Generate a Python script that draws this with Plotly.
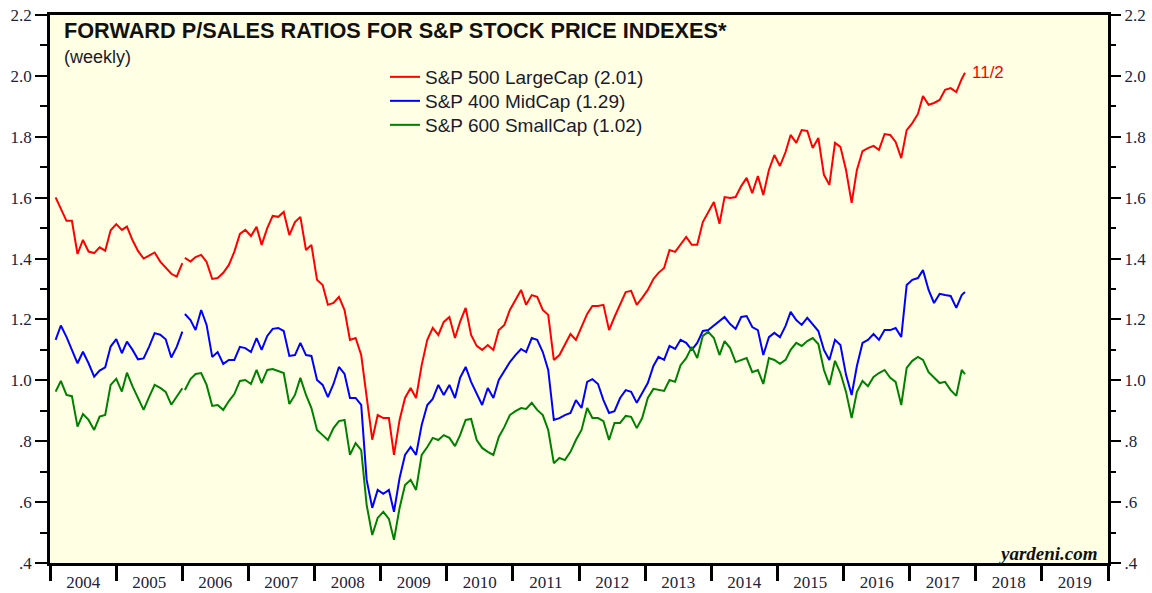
import plotly.graph_objects as go

# ---------------- data ----------------
# early segment: monthly readings, Feb 2004 .. Jan 2006
early_dates = [f"{y}-{m:02d}-01" for y in (2004, 2005) for m in range(1, 13)][1:] + ["2006-01-01"]
large_early = [1.601, 1.565, 1.524, 1.524, 1.415, 1.461, 1.423, 1.418, 1.437, 1.426, 1.493, 1.513,
               1.494, 1.505, 1.460, 1.425, 1.400, 1.410, 1.420, 1.390, 1.370, 1.350, 1.341, 1.385]
mid_early = [1.133, 1.180, 1.143, 1.100, 1.056, 1.094, 1.056, 1.012, 1.032, 1.043, 1.111, 1.135,
             1.089, 1.127, 1.100, 1.069, 1.072, 1.110, 1.155, 1.150, 1.135, 1.075, 1.110, 1.160]
small_early = [0.963, 0.998, 0.952, 0.948, 0.848, 0.889, 0.870, 0.837, 0.881, 0.886, 0.985, 1.005,
               0.963, 1.025, 0.980, 0.940, 0.903, 0.945, 0.985, 0.975, 0.962, 0.920, 0.945, 0.974]

# weekly segment, sampled about monthly: Jan 2006 .. Oct 2017, then 11/2/2017
weekly_dates = [f"{y}-{m:02d}-15" for y in range(2006, 2018) for m in range(1, 13)][:142] + ["2017-11-02"]
large_weekly = [
    1.402, 1.390, 1.405, 1.412, 1.389, 1.333, 1.336, 1.353, 1.379, 1.422, 1.481, 1.494,
    1.474, 1.504, 1.445, 1.500, 1.540, 1.537, 1.553, 1.477, 1.520, 1.537, 1.428, 1.445,
    1.330, 1.313, 1.248, 1.254, 1.274, 1.231, 1.133, 1.139, 1.083, 0.952, 0.805, 0.886,
    0.876, 0.876, 0.755, 0.870, 0.942, 0.975, 0.942, 1.050, 1.133, 1.172, 1.149, 1.192,
    1.208, 1.139, 1.192, 1.238, 1.149, 1.113, 1.100, 1.116, 1.100, 1.165, 1.182, 1.231,
    1.264, 1.297, 1.248, 1.280, 1.274, 1.231, 1.215, 1.067, 1.083, 1.116, 1.152, 1.133,
    1.175, 1.218, 1.244, 1.244, 1.248, 1.165, 1.208, 1.248, 1.290, 1.294, 1.248, 1.271,
    1.297, 1.333, 1.353, 1.369, 1.428, 1.422, 1.445, 1.471, 1.445, 1.445, 1.520, 1.553,
    1.586, 1.514, 1.602, 1.599, 1.602, 1.638, 1.665, 1.615, 1.671, 1.609, 1.691, 1.740,
    1.704, 1.750, 1.806, 1.780, 1.822, 1.819, 1.763, 1.796, 1.675, 1.642, 1.780, 1.767,
    1.691, 1.583, 1.691, 1.753, 1.763, 1.770, 1.757, 1.809, 1.806, 1.783, 1.730, 1.822,
    1.845, 1.875, 1.934, 1.905, 1.911, 1.921, 1.954, 1.960, 1.947, 1.990, 2.010]
mid_weekly = [
    1.218, 1.198, 1.165, 1.231, 1.182, 1.077, 1.093, 1.054, 1.067, 1.067, 1.110, 1.106,
    1.093, 1.139, 1.100, 1.146, 1.169, 1.172, 1.162, 1.080, 1.083, 1.123, 1.083, 1.080,
    1.001, 0.985, 0.945, 0.988, 1.044, 1.021, 0.942, 0.942, 0.919, 0.673, 0.581, 0.640,
    0.627, 0.640, 0.568, 0.679, 0.755, 0.781, 0.755, 0.853, 0.919, 0.939, 0.985, 0.952,
    0.985, 0.942, 1.008, 1.044, 0.995, 0.958, 0.919, 0.975, 0.942, 1.001, 1.031, 1.060,
    1.083, 1.103, 1.093, 1.139, 1.133, 1.093, 1.034, 0.870, 0.876, 0.886, 0.893, 0.935,
    0.909, 0.995, 1.004, 0.988, 0.935, 0.893, 0.899, 0.942, 0.968, 0.962, 0.926, 0.958,
    0.991, 1.047, 1.077, 1.067, 1.113, 1.103, 1.133, 1.123, 1.100, 1.123, 1.162, 1.165,
    1.179, 1.195, 1.208, 1.185, 1.169, 1.208, 1.211, 1.175, 1.165, 1.083, 1.142, 1.156,
    1.142, 1.179, 1.225, 1.198, 1.182, 1.205, 1.182, 1.162, 1.100, 1.067, 1.133, 1.116,
    1.018, 0.952, 1.047, 1.123, 1.133, 1.152, 1.133, 1.165, 1.165, 1.172, 1.142, 1.313,
    1.330, 1.336, 1.362, 1.297, 1.254, 1.284, 1.280, 1.277, 1.238, 1.280, 1.290]
small_weekly = [
    0.968, 1.004, 1.021, 1.024, 0.985, 0.916, 0.919, 0.903, 0.932, 0.955, 0.998, 1.001,
    0.988, 1.034, 0.991, 1.034, 1.037, 1.031, 1.024, 0.922, 0.952, 1.008, 0.952, 0.909,
    0.837, 0.820, 0.804, 0.843, 0.866, 0.870, 0.755, 0.794, 0.771, 0.591, 0.492, 0.548,
    0.568, 0.545, 0.476, 0.581, 0.656, 0.673, 0.640, 0.755, 0.781, 0.811, 0.804, 0.820,
    0.811, 0.784, 0.820, 0.870, 0.873, 0.804, 0.778, 0.765, 0.755, 0.814, 0.847, 0.886,
    0.899, 0.909, 0.906, 0.926, 0.903, 0.886, 0.837, 0.728, 0.745, 0.738, 0.765, 0.804,
    0.837, 0.909, 0.876, 0.876, 0.866, 0.804, 0.860, 0.860, 0.883, 0.880, 0.843, 0.876,
    0.942, 0.972, 0.968, 0.965, 1.001, 0.995, 1.050, 1.073, 1.110, 1.073, 1.146, 1.159,
    1.139, 1.083, 1.129, 1.106, 1.060, 1.067, 1.073, 1.027, 1.034, 0.988, 1.073, 1.067,
    1.054, 1.067, 1.100, 1.123, 1.113, 1.129, 1.139, 1.119, 1.034, 0.985, 1.064, 1.024,
    0.962, 0.876, 0.962, 0.998, 0.981, 1.011, 1.024, 1.034, 1.008, 0.995, 0.919, 1.041,
    1.064, 1.077, 1.067, 1.027, 1.008, 0.991, 0.995, 0.968, 0.949, 1.034, 1.020]

series_names = ["S&P 500 LargeCap (2.01)", "S&P 400 MidCap (1.29)", "S&P 600 SmallCap (1.02)"]
series_colors = ["#ff0000", "#0000ff", "#008000"]
year_labels = [str(y) for y in range(2004, 2020)]
y_tick_vals = [0.4, 0.6, 0.8, 1.0, 1.2, 1.4, 1.6, 1.8, 2.0, 2.2]
y_tick_text = [".4", ".6", ".8", "1.0", "1.2", "1.4", "1.6", "1.8", "2.0", "2.2"]
last_label = "11/2"

# ---------------- figure ----------------
fig = go.Figure()
early = [large_early, mid_early, small_early]
weekly = [large_weekly, mid_weekly, small_weekly]
legends = ["legend", "legend2", "legend3"]
for name, color, e, w, lg in zip(series_names, series_colors, early, weekly, legends):
    fig.add_trace(go.Scatter(x=early_dates, y=e, mode="lines", line=dict(color=color, width=2),
                             showlegend=False, hoverinfo="skip"))
    fig.add_trace(go.Scatter(x=weekly_dates, y=w, mode="lines", line=dict(color=color, width=2),
                             name=name, legend=lg))

tick_font = dict(family="Liberation Serif", size=17, color="#22223a")
axis_common = dict(range=[0.4, 2.2], tickmode="array", tickvals=y_tick_vals, ticktext=y_tick_text,
                   ticks="outside", ticklen=12, tickwidth=2, tickcolor="black",
                   minor=dict(dtick=0.1, tick0=0.4, ticks="outside", ticklen=7, tickwidth=2,
                              tickcolor="black"),
                   showgrid=False, zeroline=False, tickfont=tick_font, fixedrange=True)

PW, PH = 1058, 548  # plot area size in px (for placing texts)

fig.update_layout(
    width=1152, height=593,
    margin=dict(l=50, r=44, t=15, b=30, autoexpand=False),
    paper_bgcolor="white",
    plot_bgcolor="#ffffe3",
    showlegend=True,
    xaxis=dict(type="date", range=["2004-01-01", "2020-01-01"],
               tickmode="array",
               tickvals=[f"{y}-07-02" for y in year_labels], ticktext=year_labels,
               tickangle=0,
               ticks="", showgrid=False, zeroline=False,
               minor=dict(tickmode="array", tickvals=[f"{y}-01-01" for y in range(2004, 2021)],
                          ticks="outside", ticklen=15, tickwidth=3, tickcolor="black"),
               showline=True, linecolor="black", linewidth=2.5, mirror=True,
               tickfont=tick_font, ticklabelstandoff=2, fixedrange=True),
    yaxis=dict(side="left", showline=True, linecolor="black", linewidth=2.5, mirror=True,
               **axis_common),
    yaxis2=dict(side="right", overlaying="y", showline=False, **axis_common),
)

legend_style = dict(xref="paper", yref="paper", xanchor="left", yanchor="middle",
                    bgcolor="rgba(0,0,0,0)", borderwidth=0,
                    font=dict(family="Liberation Sans", size=19, color="#1a1a2e"))
lx = (385 - 50) / PW
fig.update_layout(
    legend=dict(x=lx, y=(563 - 77) / PH, **legend_style),
    legend2=dict(x=lx, y=(563 - 101) / PH, **legend_style),
    legend3=dict(x=lx, y=(563 - 125) / PH, **legend_style),
)

# invisible trace to anchor the right axis
fig.add_trace(go.Scatter(x=[weekly_dates[0]], y=[large_weekly[0]], yaxis="y2", mode="markers",
                         marker=dict(opacity=0), showlegend=False, hoverinfo="skip"))

fig.add_annotation(text="<b>FORWARD P/SALES RATIOS FOR S&P STOCK PRICE INDEXES*</b>",
                   xref="paper", yref="paper", x=(62 - 50) / PW, y=(563 - 31) / PH,
                   xanchor="left", yanchor="middle", showarrow=False,
                   font=dict(family="Liberation Sans", size=21.7, color="#111111"))
fig.add_annotation(text="(weekly)", xref="paper", yref="paper", x=(62 - 50) / PW,
                   y=(563 - 57) / PH, xanchor="left", yanchor="middle", showarrow=False,
                   font=dict(family="Liberation Sans", size=18, color="#1a1a2e"))
fig.add_annotation(text=last_label, x=weekly_dates[-1], y=large_weekly[-1], xref="x", yref="y",
                   xanchor="left", yanchor="middle", xshift=5, showarrow=False,
                   font=dict(family="Liberation Sans", size=17, color="#ff0000"))
fig.add_annotation(text="<b><i>yardeni.com</i></b>", xref="paper", yref="paper",
                   x=(1100 - 50) / PW, y=(563 - 553) / PH, xanchor="right", yanchor="middle",
                   showarrow=False, font=dict(family="Liberation Serif", size=19, color="#111111"))

fig.write_html("out.html", config={"displayModeBar": False},
               post_script="document.body.style.margin='0';document.body.style.overflow='hidden';")
